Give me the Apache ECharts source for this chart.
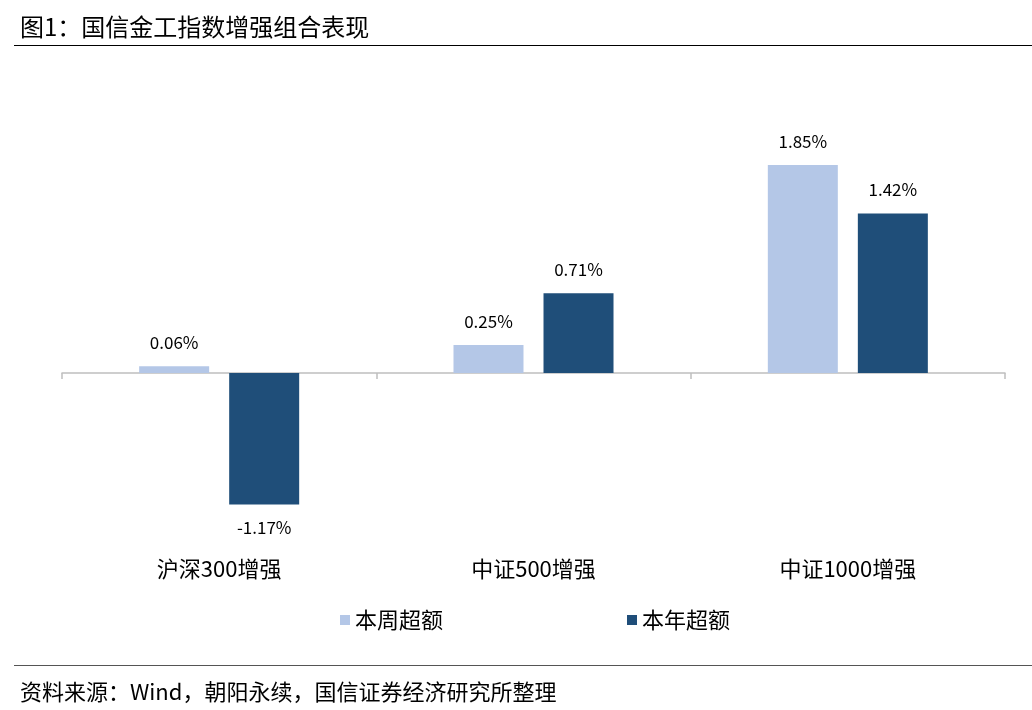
<!DOCTYPE html>
<html>
<head>
<meta charset="utf-8">
<script src="https://cdn.jsdelivr.net/npm/echarts@6/dist/echarts.min.js"></script>
<style>
html,body{margin:0;padding:0;background:#fff;}
#main{width:1032px;height:710px;}
</style>
</head>
<body>
<div id="main"></div>
<script>
const categories = ['沪深300增强', '中证500增强', '中证1000增强'];
const weeklyExcess = [0.06, 0.25, 1.85];
const yearlyExcess = [-1.17, 0.71, 1.42];
const seriesNames = ['本周超额', '本年超额'];
const titleText = '图1：国信金工指数增强组合表现';
const sourceText = '资料来源：Wind，朝阳永续，国信证券经济研究所整理';

const FONT = '"Noto Sans CJK SC", "Liberation Sans", sans-serif';
const chart = echarts.init(document.getElementById('main'));
const labelFmt = p => p.value.toFixed(2) + '%';
const toItems = arr => arr.map(v => ({
  value: v,
  label: { position: v < 0 ? 'bottom' : 'top' }
}));
const labelStyle = { show: true, distance: 15, formatter: labelFmt, fontSize: 17, color: '#000', fontFamily: FONT };

chart.setOption({
  backgroundColor: '#fff',
  animation: false,
  textStyle: { fontFamily: FONT },
  title: [
    { text: titleText, left: 15, top: 10, textStyle: { fontSize: 24, fontWeight: 'normal', color: '#000', fontFamily: FONT } },
    { text: sourceText, left: 15, top: 676, textStyle: { fontSize: 22, fontWeight: 'normal', color: '#000', fontFamily: FONT } }
  ],
  graphic: [
    { type: 'line', shape: { x1: 14, y1: 45.5, x2: 1032, y2: 45.5 }, style: { stroke: '#000', lineWidth: 1.2 } },
    { type: 'line', shape: { x1: 14, y1: 665.5, x2: 1032, y2: 665.5 }, style: { stroke: '#555', lineWidth: 1.2 } }
  ],
  legend: {
    data: seriesNames,
    left: 335,
    top: 604,
    itemGap: 184,
    itemWidth: 10,
    itemHeight: 10,
    icon: 'rect',
    textStyle: { fontSize: 22, color: '#000', fontFamily: FONT }
  },
  grid: { left: 62, right: 27, top: 92, height: 449.6 },
  xAxis: [
    {
      type: 'category',
      data: categories,
      axisLine: { onZero: true, lineStyle: { color: '#BFBFBF', width: 1.5 } },
      axisTick: { show: true, length: 6, lineStyle: { color: '#BFBFBF', width: 1.5 } },
      axisLabel: { show: false }
    },
    {
      type: 'category',
      data: categories,
      position: 'bottom',
      axisLine: { show: false, onZero: false },
      axisTick: { show: false },
      axisLabel: { show: true, fontSize: 22, color: '#000', margin: 16, fontFamily: FONT }
    }
  ],
  yAxis: {
    type: 'value',
    min: -1.5,
    max: 2.5,
    show: false,
    splitLine: { show: false }
  },
  series: [
    {
      name: seriesNames[0],
      type: 'bar',
      data: toItems(weeklyExcess),
      barWidth: 70,
      barGap: '28.6%',
      itemStyle: { color: '#B4C7E7' },
      label: labelStyle
    },
    {
      name: seriesNames[1],
      type: 'bar',
      data: toItems(yearlyExcess),
      barWidth: 70,
      barGap: '28.6%',
      itemStyle: { color: '#1F4E79' },
      label: labelStyle
    }
  ]
});
</script>
</body>
</html>
